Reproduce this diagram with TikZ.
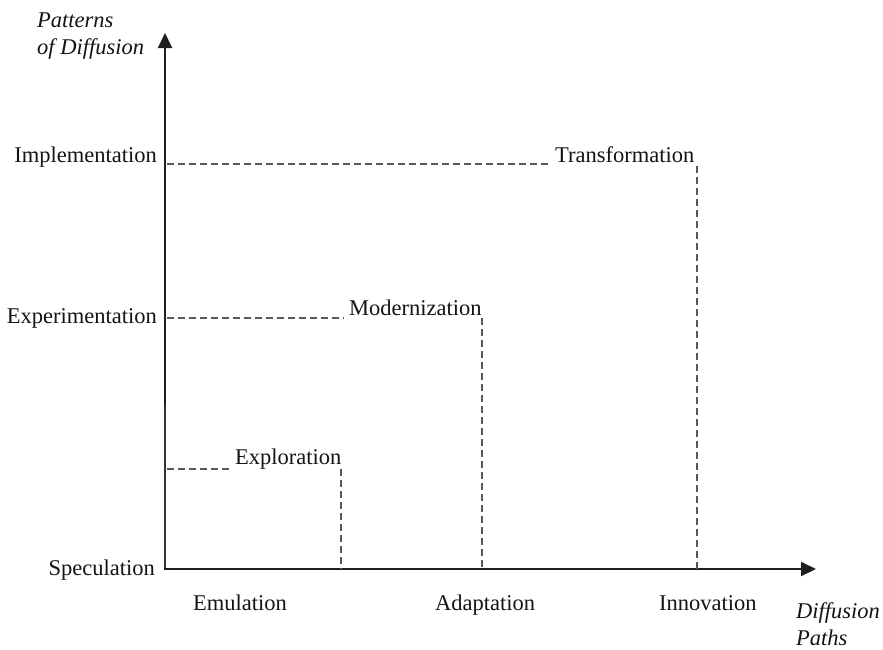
\documentclass[tikz,border=0pt]{standalone}
\usepackage{fontspec}
\setmainfont{Liberation Serif}
\usetikzlibrary{arrows.meta}
\begin{document}
\begin{tikzpicture}[x=1pt,y=-1pt,
  lbl/.style={inner sep=0pt, font=\fontsize{22.5}{27}\selectfont, text=black!92},
  ttl/.style={inner sep=0pt, font=\fontsize{22.5}{27.5}\selectfont\itshape, align=left, text=black!92},
  axisline/.style={line width=2pt, draw=black!88, -{Triangle[length=15pt,width=14pt]}},
  axislow/.style={line width=1.3pt, draw=black!80},
  guide/.style={line width=1.2pt, draw=black!65, dash pattern=on 6.5pt off 4.5pt}]
\useasboundingbox (0,0) rectangle (883,649);
% axes
\coordinate (O) at (165,569);
\coordinate (ymid) at (165,405);
\coordinate (ytip) at (165,33);
\coordinate (xtip) at (816,569);
\draw[axislow] (O) -- (ymid);
\draw[axisline] (ymid) -- (ytip);
\draw[axisline] ([xshift=-1pt]O) -- (xtip);
% axis titles
\node[ttl, anchor=north west] (ytitle) at (37,12.5) {Patterns\\of Diffusion};
\node[ttl, anchor=north west] (xtitle) at (796,602) {Diffusion\\Paths};
% y labels
\node[lbl, anchor=base east] (impl) at (157,162) {Implementation};
\node[lbl, anchor=base east] (expe) at (157,323) {Experimentation};
\node[lbl, anchor=base east] (spec) at (155,575) {Speculation};
% x labels
\node[lbl, anchor=base west] (emul) at (193,610) {Emulation};
\node[lbl, anchor=base west] (adap) at (435,610) {Adaptation};
\node[lbl, anchor=base west] (inno) at (659,610) {Innovation};
% Transformation
\node[lbl, anchor=base west] (trans) at (555,162) {Transformation};
\coordinate (trL) at (167,164);
\coordinate (trM) at (549,164);
\coordinate (trR) at (697,166);
\coordinate (trB) at (697,569);
\draw[guide] (trL) -- (trM);
\draw[guide] (trR) -- (trB);
% Modernization
\node[lbl, anchor=base west] (mod) at (349,315) {Modernization};
\coordinate (moL) at (167,318);
\coordinate (moM) at (344,318);
\coordinate (moR) at (482,318);
\coordinate (moB) at (482,569);
\draw[guide] (moL) -- (moM);
\draw[guide] (moR) -- (moB);
% Exploration
\node[lbl, anchor=base west] (expl) at (235,464) {Exploration};
\coordinate (exL) at (167,469);
\coordinate (exM) at (230,469);
\coordinate (exR) at (341,469);
\coordinate (exB) at (341,569);
\draw[guide] (exL) -- (exM);
\draw[guide] (exR) -- (exB);
\end{tikzpicture}
\end{document}
